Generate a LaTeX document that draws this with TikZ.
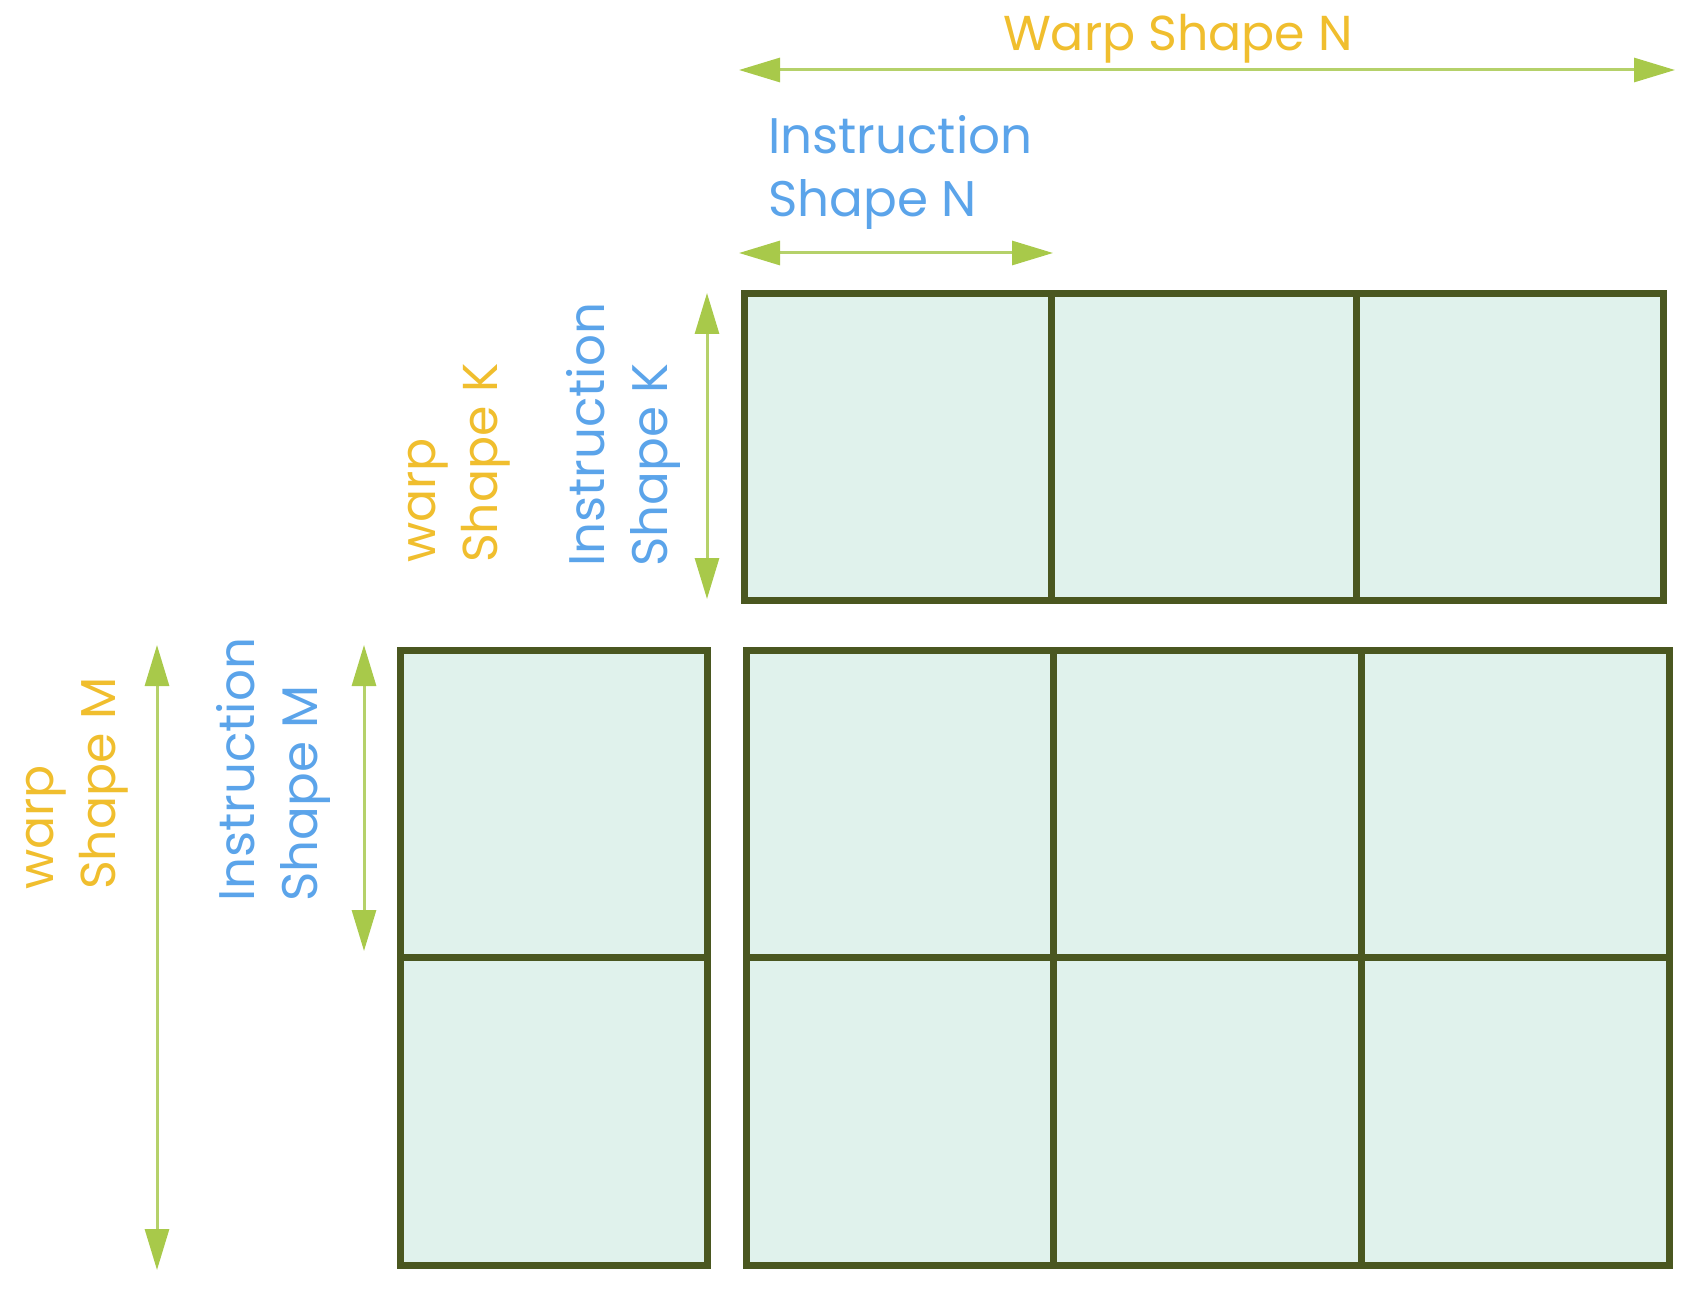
\documentclass[tikz,border=0pt]{standalone}
\usepackage{fontspec}
\setmainfont{Poppins}
\usetikzlibrary{arrows.meta}
\definecolor{gridline}{HTML}{4A5720}
\definecolor{cellfill}{HTML}{E0F2EC}
\definecolor{arrowgreen}{HTML}{A8C94A}
\definecolor{arrowline}{HTML}{B5D16A}
\definecolor{warpyellow}{HTML}{F0BE2E}
\definecolor{instblue}{HTML}{5BA4EA}
\tikzset{
  cell/.style={draw=gridline, fill=cellfill, line width=7pt, rectangle, inner sep=0pt, outer sep=0pt},
  dimline/.style={draw=arrowline, line width=3pt, {Triangle[length=41pt,width=24pt,fill=arrowgreen,color=arrowgreen]}-{Triangle[length=41pt,width=24pt,fill=arrowgreen,color=arrowgreen]}},
  warplabel/.style={text=warpyellow, font=\fontsize{49}{62}\selectfont, inner sep=0pt, align=left},
  instlabel/.style={text=instblue, font=\fontsize{50}{63}\selectfont, inner sep=0pt, align=left},
}
\begin{document}
\begin{tikzpicture}[x=1pt,y=-1pt]
\useasboundingbox (0,0) rectangle (1702,1305);
% top block (B)
\foreach \i/\xa/\xb in {1/744/1051.5, 2/1051.5/1356, 3/1356/1663}{
  \node[cell, minimum width={\xb-\xa}, minimum height=306] (b\i) at ({(\xa+\xb)/2},447) {};
}
% bottom block (C)
\foreach \i/\xa/\xb in {1/746.5/1053, 2/1053/1361, 3/1361/1669}{
  \foreach \j/\ya/\yb in {1/650.5/957.5, 2/957.5/1265}{
    \node[cell, minimum width={\xb-\xa}, minimum height={\yb-\ya}] (c\j\i) at ({(\xa+\xb)/2},{(\ya+\yb)/2}) {};
  }
}
% left block (A)
\foreach \j/\ya/\yb in {1/650.5/957.5, 2/957.5/1265}{
  \node[cell, minimum width=307.5, minimum height={\yb-\ya}] (a\j) at (553.75,{(\ya+\yb)/2}) {};
}
% dimension arrows
\coordinate (wn1) at (739,70);
\coordinate (wn2) at (1675,70);
\draw[dimline] (wn1) -- (wn2);
\coordinate (in1) at (739,253);
\coordinate (in2) at (1053,253);
\draw[dimline] (in1) -- (in2);
\coordinate (ik1) at (707,293);
\coordinate (ik2) at (707,599);
\draw[dimline] (ik1) -- (ik2);
\coordinate (wm1) at (157,645);
\coordinate (wm2) at (157,1270);
\draw[dimline] (wm1) -- (wm2);
\coordinate (im1) at (364,645);
\coordinate (im2) at (364,951);
\draw[dimline] (im1) -- (im2);
% labels
\node[warplabel, anchor=base] (twn) at (1178,51) {Warp Shape N};
\node[instlabel, anchor=base west] (tin) at (768,217) {Instruction\\Shape N};
\node[warplabel, anchor=base west, rotate=90] (twk) at (497,563) {warp\\Shape K};
\node[instlabel, anchor=base west, rotate=90] (tik) at (667,567) {Instruction\\Shape K};
\node[warplabel, anchor=base west, rotate=90] (twm) at (115,890) {warp\\Shape M};
\node[instlabel, anchor=base west, rotate=90] (tim) at (317,902) {Instruction\\Shape M};
\end{tikzpicture}
\end{document}
